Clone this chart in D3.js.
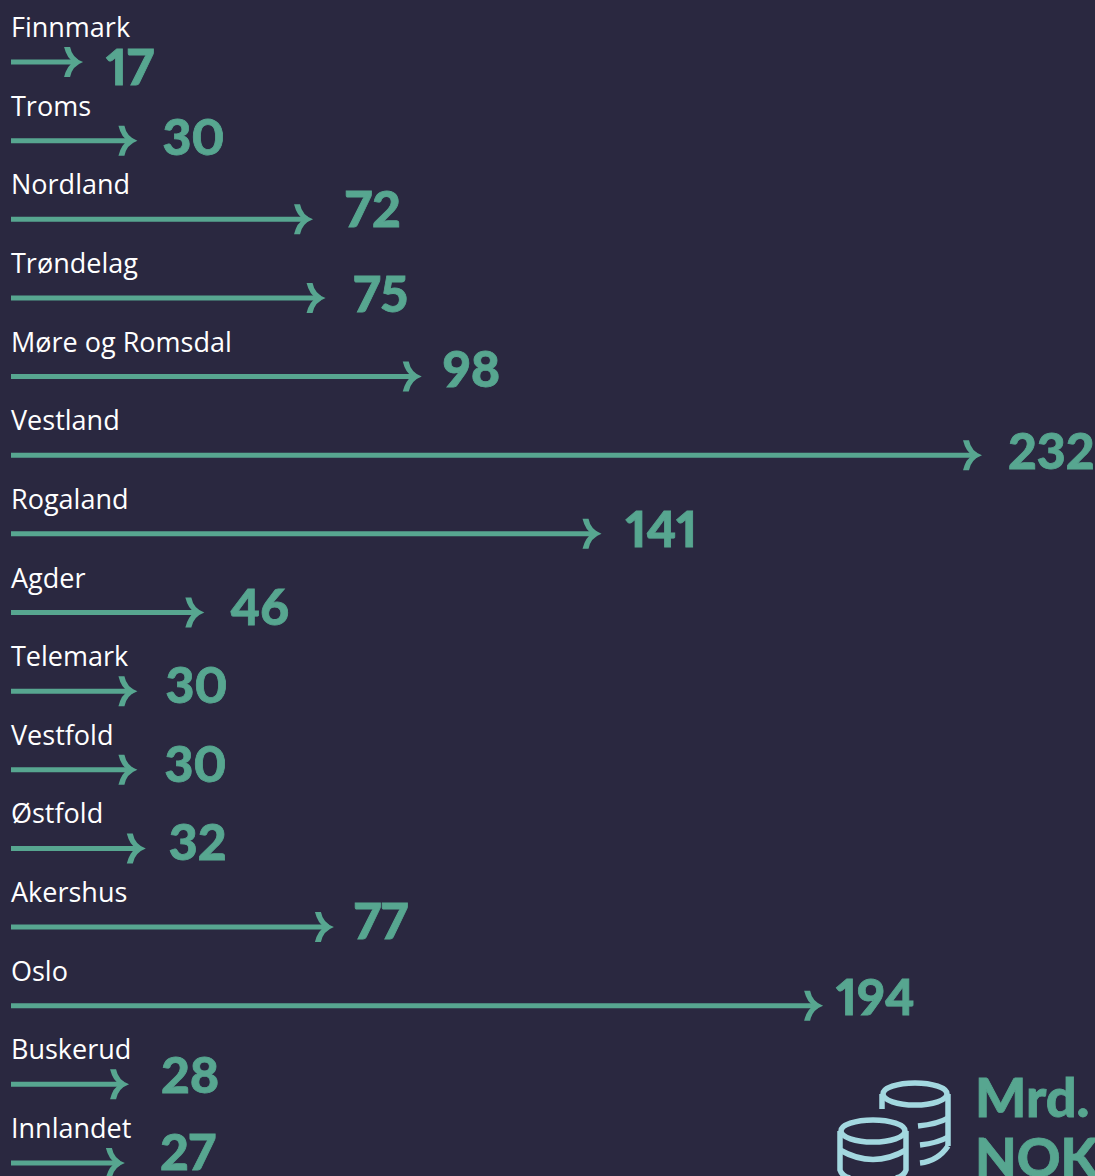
<!DOCTYPE html>
<html lang="en">
<head>
    <meta charset="UTF-8">
    <title>Mrd. NOK per fylke</title>
    <script src="https://d3js.org/d3.v7.min.js"></script>
    <style>
        html, body {
            margin: 0;
            padding: 0;
            background: #2a2840;
            overflow: hidden;
        }

        .region-label {
            font-family: "Open Sans", sans-serif;
            font-size: 27px;
            fill: #ffffff;
        }

        .value-label, .unit-label {
            font-family: Lato, sans-serif;
            font-weight: 900;
            font-variant-numeric: proportional-nums;
            fill: #57a690;
            stroke: #57a690;
            stroke-width: 0.8;
        }

        .value-label { font-size: 50px; }
        .unit-label { font-size: 54px; }

        .shaft {
            fill: none;
            stroke: #57a690;
            stroke-width: 5;
        }

        .head {
            fill: #57a690;
        }

        .coins {
            fill: none;
            stroke: #a3d8e0;
            stroke-width: 5.5;
        }
    </style>
</head>
<body>

<svg id="chart" width="1095" height="1176"></svg>

<script>
    // Data, north to south as in the picture
    const regions = ["Finnmark", "Troms", "Nordland", "Trøndelag", "Møre og Romsdal", "Vestland", "Rogaland",
        "Agder", "Telemark", "Vestfold", "Østfold", "Akershus", "Oslo", "Buskerud", "Innlandet"];
    const values = [17, 30, 72, 75, 98, 232, 141, 46, 30, 30, 32, 77, 194, 28, 27];
    const unitLines = ["Mrd.", "NOK"];

    // The value labels are placed by hand in the original, so each has its own nudge
    const labelGap = [24, 26, 33, 29, 22, 27, 25, 27, 29, 28, 24, 21, 14, 33, 36];
    const labelRise = [5, -4, -10, -4, -8, -4, -5, -6, -6, -6, -6, -6, -9, -9, -11];

    const capHeight = 36;

    const svg = d3.select("#chart");

    const x = d3.scaleLinear().domain([0, 232]).range([11, 981]);
    const y = d3.scalePoint().domain(regions).range([62, 1163]);

    const rows = svg.selectAll(".row")
        .data(regions)
        .enter()
        .append("g")
        .attr("class", "row")
        .attr("transform", d => `translate(0, ${y(d)})`);

    rows.append("text")
        .attr("class", "region-label")
        .attr("x", 11)
        .attr("y", -25)
        .text(d => d);

    rows.append("path")
        .attr("class", "shaft")
        .attr("d", (d, i) => `M11,0H${x(values[i]) - 4}`);

    // Curved head, thicker towards the tip
    rows.append("path")
        .attr("class", "head")
        .attr("d", (d, i) => {
            const t = x(values[i]);
            return `M${t - 18},-15L${t - 12},-15Q${t - 10},-4 ${t + 1},0Q${t - 10},4 ${t - 12},15L${t - 18},15Q${t - 15},3 ${t - 8},0Q${t - 15},-3 ${t - 18},-15Z`;
        });

    rows.append("text")
        .attr("class", "value-label")
        .attr("x", (d, i) => x(values[i]) + labelGap[i])
        .attr("y", (d, i) => labelRise[i] + capHeight / 2)
        .text((d, i) => values[i]);

    // Unit, bottom right, runs off the page like the original
    svg.selectAll(".unit-label")
        .data(unitLines)
        .enter()
        .append("text")
        .attr("class", "unit-label")
        .attr("x", 975)
        .attr("y", (d, i) => 1117 + i * 60)
        .text(d => d);

    // Coin stacks
    const coins = svg.append("g").attr("class", "coins");
    coins.append("ellipse").attr("cx", 915).attr("cy", 1094).attr("rx", 32).attr("ry", 11);
    coins.append("path").attr("d", "M882,1094V1109M948,1094V1146");
    coins.append("path").attr("d", "M918,1126Q938,1124 948,1118M920,1145Q938,1143 948,1137M920,1163Q938,1161 948,1146");
    coins.append("ellipse").attr("cx", 873).attr("cy", 1131).attr("rx", 32).attr("ry", 11);
    coins.append("path").attr("d", "M840,1131V1170Q842,1176 850,1178M906,1131V1170Q904,1176 896,1178");
    coins.append("path").attr("d", "M840,1150Q873,1169 906,1150");
</script>

</body>
</html>
